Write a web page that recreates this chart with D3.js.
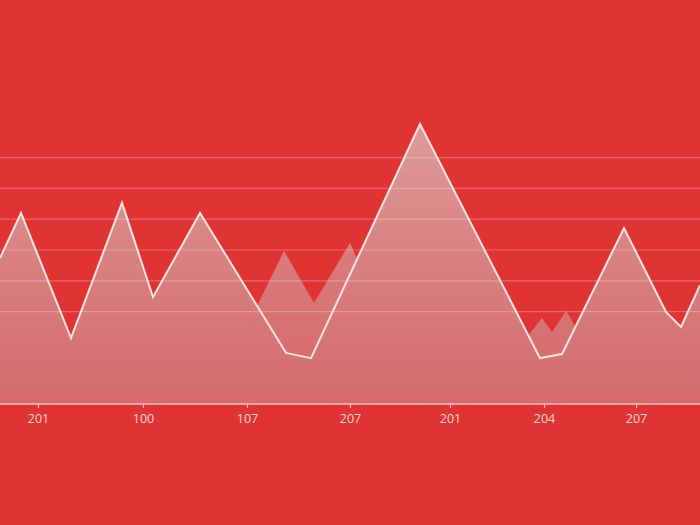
<!DOCTYPE html>
<html>
<head>
<meta charset="utf-8">
<script src="https://cdn.jsdelivr.net/npm/d3@7/dist/d3.min.js"></script>
<style>
  html, body { margin: 0; padding: 0; background: #e03434; overflow: hidden; }
  svg { display: block; }
</style>
</head>
<body>
<svg id="chart" width="700" height="525"></svg>
<script>
// ---- data ----
const mainX   = [0, 2.1, 7.1, 12.2, 15.3, 20.0, 28.6, 31.1, 42.0, 54.0, 56.2, 62.4, 66.6, 68.1, 70];
const mainY   = [4.74, 6.20, 2.14, 6.53, 3.47, 6.20, 1.66, 1.49, 9.09, 1.49, 1.62, 5.71, 2.99, 2.50, 3.86];
const backX   = [0, 6, 12, 17, 22, 28.4, 31.4, 35.0, 38, 44, 48, 52, 54.2, 55.2, 56.6, 58.5, 62, 66, 70];
const backY   = [1.5, 1.2, 2.0, 1.6, 0.73, 4.97, 3.28, 5.23, 3.0, 3.3, 2.5, 1.9, 2.79, 2.34, 3.02, 2.0, 2.5, 1.8, 2.0];
const tickPos    = [3.8, 14.3, 24.7, 35.0, 45.0, 54.4, 63.6];
const tickLabels = ["201", "100", "107", "207", "201", "204", "207"];
const gridValues = [3, 4, 5, 6, 7, 8];

const mainData = mainX.map((x, i) => ({x, y: mainY[i]}));
const backData = backX.map((x, i) => ({x, y: backY[i]}));

const W = 700, H = 525;
const svg = d3.select("#chart");

const x = d3.scaleLinear().domain([0, 70]).range([0, W]);
const y = d3.scaleLinear().domain([0, 13.117]).range([404, 0]);

svg.append("rect").attr("width", W).attr("height", H).attr("fill", "#e03434");

const defs = svg.append("defs");
const grad = defs.append("linearGradient")
  .attr("id", "areaGrad")
  .attr("gradientUnits", "userSpaceOnUse")
  .attr("x1", 0).attr("x2", 0)
  .attr("y1", y(9.1)).attr("y2", y(0));
grad.append("stop").attr("offset", "0%").attr("stop-color", "#dd9c9a");
grad.append("stop").attr("offset", "45%").attr("stop-color", "#d98282");
grad.append("stop").attr("offset", "100%").attr("stop-color", "#d46b6d");

const area = d3.area().x(d => x(d.x)).y0(y(0)).y1(d => y(d.y)).curve(d3.curveLinear);
const line = d3.line().x(d => x(d.x)).y(d => y(d.y)).curve(d3.curveLinear);

// background series
svg.append("path").datum(backData)
  .attr("d", area)
  .attr("fill", "url(#areaGrad)")
  .attr("opacity", 0.92);

// main series
svg.append("path").datum(mainData)
  .attr("d", area)
  .attr("fill", "url(#areaGrad)");

// gridlines (drawn faintly over everything)
svg.append("g").selectAll("line").data(gridValues).join("line")
  .attr("x1", 0).attr("x2", W)
  .attr("y1", d => y(d)).attr("y2", d => y(d))
  .attr("stroke", "#ffffff")
  .attr("stroke-opacity", 0.25)
  .attr("stroke-width", 1.2);

svg.append("path").datum(mainData)
  .attr("d", line)
  .attr("fill", "none")
  .attr("stroke", "#fbe4e0")
  .attr("stroke-width", 2)
  .attr("stroke-linejoin", "miter");

// x axis
const xAxis = d3.axisBottom(x)
  .tickValues(tickPos)
  .tickFormat((d, i) => tickLabels[i])
  .tickSize(4)
  .tickPadding(6);

const gx = svg.append("g").attr("transform", `translate(0,${y(0)})`).call(xAxis);
gx.select(".domain").remove();
gx.append("line").attr("x1", 0).attr("x2", W).attr("y1", 0).attr("y2", 0)
  .attr("stroke", "#f0bcbc").attr("stroke-width", 1.5);
gx.selectAll(".tick line").attr("stroke", "#f0bcbc").attr("stroke-width", 1.2);
gx.selectAll(".tick text")
  .attr("fill", "#f7d6d2")
  .style("font-family", "'Liberation Sans Narrow', 'Open Sans', sans-serif")
  .style("font-size", "12.5px");
</script>
</body>
</html>
